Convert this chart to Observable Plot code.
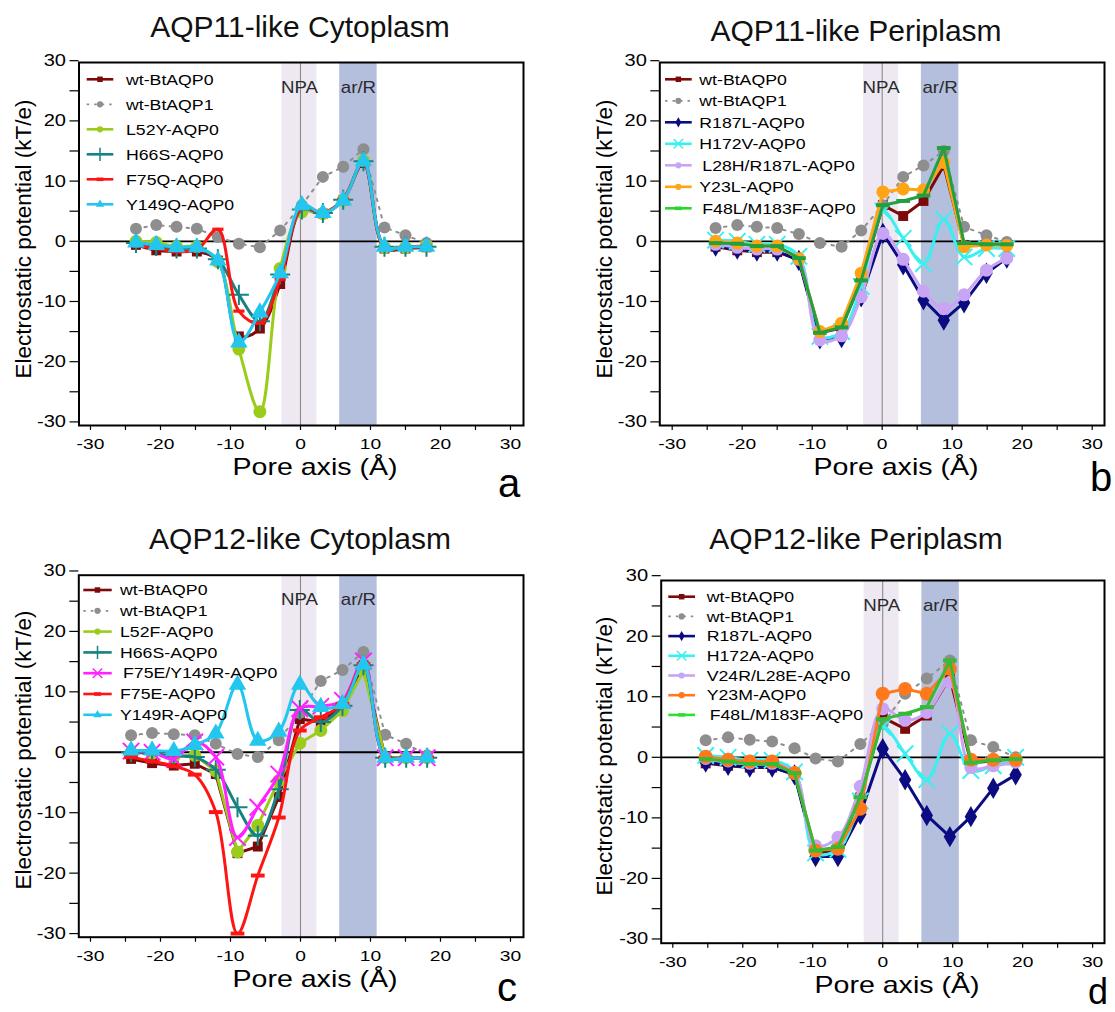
<!DOCTYPE html>
<html><head><meta charset="utf-8">
<script src="https://cdn.jsdelivr.net/npm/d3@7"></script>
<script src="https://cdn.jsdelivr.net/npm/@observablehq/plot@0.6"></script>
<style>
html,body{margin:0;padding:0;background:#fff;}
#root{position:relative;width:1115px;height:1012px;overflow:hidden;font-family:"Liberation Sans",Arial,sans-serif;background:#fff;}
#overlay{position:absolute;left:0;top:0;pointer-events:none;}
</style></head>
<body><div id="root"></div>
<script>
// ================= DATA =================
const panelTitles = ["AQP11-like Cytoplasm", "AQP11-like Periplasm", "AQP12-like Cytoplasm", "AQP12-like Periplasm"];
const panelLetters = ["a", "b", "c", "d"];
const xTickValues = [-30, -25, -20, -15, -10, -5, 0, 5, 10, 15, 20, 25, 30];
const yTickValues = [-30, -25, -20, -15, -10, -5, 0, 5, 10, 15, 20, 25, 30];
const bandNames = ["NPA", "ar/R"];
const bandFrom = [-2.65, 5.6];
const bandTo = [2.35, 10.95];
const xAxisTitle = "Pore axis (Å)";
const yAxisTitle = "Electrostatic potential (kT/e)";

// Panel a — AQP11-like Cytoplasm
const xA = [-23.5, -20.6, -17.7, -14.8, -11.8, -8.8, -5.8, -2.9, 0.2, 3.2, 6.1, 9.0, 12.0, 15.0, 18.0];
const namesA = ["wt-BtAQP0", "wt-BtAQP1", "L52Y-AQP0", "H66S-AQP0", "F75Q-AQP0", "Y149Q-AQP0"];
const a_wtAQP0 = [-0.6, -1.5, -1.7, -1.7, -3.2, -15.8, -14.5, -7.1, 5.2, 4.6, 6.8, 13.0, -1.2, -1.2, -1.0];
const a_wtAQP1 = [2.1, 2.7, 2.4, 2.1, 0.7, -0.4, -1.0, 1.8, 6.0, 10.7, 12.4, 15.3, 2.3, 1.0, -0.3];
const a_L52Y = [0.0, -0.2, -0.9, -0.9, -3.4, -17.9, -28.3, -4.5, 4.9, 4.6, 6.8, 13.4, -1.0, -1.0, -0.8];
const a_H66S = [-0.3, -0.8, -1.2, -1.2, -3.0, -8.9, -13.3, -5.5, 5.3, 4.7, 6.9, 13.3, -0.9, -0.9, -0.9];
const a_F75Q = [-0.6, -1.2, -1.7, -1.4, 2.0, -11.6, -13.6, -6.3, 5.5, 4.8, 7.0, 13.1, -0.9, -0.9, -0.8];
const a_Y149Q = [-0.2, -0.6, -1.0, -1.0, -3.2, -16.8, -11.8, -5.3, 6.0, 4.7, 6.8, 13.3, -0.9, -0.9, -0.9];

// Panel b — AQP11-like Periplasm
const xB = [-23.8, -20.7, -17.9, -15.0, -11.9, -8.9, -5.8, -3.0, 0.1, 3.0, 5.9, 8.8, 11.7, 14.9, 17.8];
const namesB = ["wt-BtAQP0", "wt-BtAQP1", "R187L-AQP0", "H172V-AQP0", "L28H/R187L-AQP0", "Y23L-AQP0", "F48L/M183F-AQP0"];
const b_wtAQP0 = [-0.9, -1.5, -1.8, -1.8, -3.0, -15.2, -14.4, -6.5, 6.0, 4.2, 6.7, 12.6, -0.6, -0.5, -0.5];
const b_wtAQP1 = [2.2, 2.7, 2.4, 2.2, 1.2, -0.3, -0.9, 1.8, 6.0, 10.7, 12.6, 15.0, 2.4, 1.0, -0.1];
const b_R187L = [-0.8, -1.3, -1.6, -1.6, -3.2, -16.2, -16.0, -9.2, 1.3, -3.9, -9.7, -13.1, -10.2, -5.3, -2.8];
const b_H172V = [0.2, 0.0, -0.5, -0.5, -2.5, -15.8, -15.0, -7.5, 5.0, 0.5, -3.7, 3.6, -2.6, -1.2, -1.2];
const b_L28H_R187L = [-0.5, -1.0, -1.3, -1.3, -3.0, -16.4, -15.7, -9.2, 1.3, -3.0, -8.3, -11.2, -8.9, -4.8, -2.8];
const b_Y23L = [0.0, -0.3, -0.8, -0.8, -2.9, -15.0, -13.6, -5.3, 8.2, 8.7, 8.5, 13.1, -0.9, -0.6, -0.7];
const b_F48L_M183F = [-0.3, -0.4, -0.8, -0.8, -2.8, -15.2, -14.3, -6.5, 6.0, 6.7, 7.6, 15.5, -0.3, -0.5, -0.5];

// Panel c — AQP12-like Cytoplasm
const xC = [-24.2, -21.2, -18.1, -15.1, -12.1, -9.0, -6.1, -3.1, -0.1, 2.9, 6.0, 9.0, 12.1, 15.1, 18.1];
const namesC = ["wt-BtAQP0", "wt-BtAQP1", "L52F-AQP0", "H66S-AQP0", "F75E/Y149R-AQP0", "F75E-AQP0", "Y149R-AQP0"];
const c_wtAQP0 = [-1.1, -1.8, -2.2, -1.9, -3.6, -16.7, -15.6, -7.4, 5.5, 5.0, 7.5, 14.4, -0.9, -0.9, -0.9];
const c_wtAQP1 = [2.8, 3.2, 3.0, 2.8, 1.4, -0.3, -0.8, 2.0, 6.5, 11.8, 13.6, 16.6, 2.9, 1.4, -0.5];
const c_L52F = [0.0, -0.2, -0.8, -0.5, -3.1, -16.5, -12.1, -4.7, 1.5, 3.6, 6.9, 13.5, -0.9, -0.9, -0.9];
const c_H66S = [0.0, -0.2, -0.6, -0.8, -2.9, -9.1, -13.8, -6.1, 7.0, 5.0, 7.7, 14.4, -0.9, -0.9, -0.9];
const c_F75E_Y149R = [0.2, 0.0, -1.1, 1.7, -0.8, -14.1, -9.1, -3.6, 7.2, 7.6, 8.6, 15.1, -0.9, -0.9, -0.9];
const c_F75E = [-0.8, -1.5, -2.3, -3.7, -9.9, -30.0, -20.4, -10.8, 3.6, 5.8, 8.0, 14.6, -0.9, -0.9, -0.9];
const c_Y149R = [0.3, 0.3, 0.2, 1.2, 3.1, 11.2, 1.9, 3.4, 11.2, 7.5, 8.0, 14.5, -0.9, -0.9, -0.9];

// Panel d — AQP12-like Periplasm
const xD = [-25.3, -22.1, -19.0, -15.8, -12.6, -9.6, -6.4, -3.2, 0.0, 3.2, 6.3, 9.6, 12.6, 15.8, 19.0];
const namesD = ["wt-BtAQP0", "wt-BtAQP1", "R187L-AQP0", "H172A-AQP0", "V24R/L28E-AQP0", "Y23M-AQP0", "F48L/M183F-AQP0"];
const d_wtAQP0 = [-1.0, -1.4, -1.7, -1.7, -2.7, -15.8, -15.4, -6.6, 6.6, 4.7, 6.9, 13.2, -0.9, -0.6, -0.6];
const d_wtAQP1 = [2.8, 3.3, 2.9, 2.6, 1.5, -0.2, -0.7, 2.2, 5.5, 10.5, 13.0, 16.0, 2.8, 1.7, 0.0];
const d_R187L = [-0.8, -1.3, -1.6, -1.6, -2.9, -16.4, -16.4, -9.4, 1.4, -3.7, -9.6, -13.1, -9.8, -5.1, -2.9];
const d_H172A = [0.3, 0.0, -0.5, -0.5, -2.4, -15.8, -15.2, -7.2, 5.0, 0.6, -3.7, 3.9, -2.2, -1.4, 0.0];
const d_V24R_L28E = [-0.2, -0.6, -1.0, -1.0, -2.6, -14.6, -13.2, -4.8, 8.0, 6.1, 7.4, 12.4, -1.7, -1.4, -0.8];
const d_Y23M = [0.1, -0.4, -0.7, -0.7, -2.6, -15.4, -15.1, -8.5, 10.5, 11.3, 10.5, 14.6, -0.4, -0.4, -0.4];
const d_F48L_M183F = [-0.3, -0.7, -1.1, -1.1, -2.6, -15.4, -14.8, -6.6, 6.3, 7.2, 8.3, 16.0, -0.9, -0.5, -0.3];

const valuesA = [a_wtAQP0, a_wtAQP1, a_L52Y, a_H66S, a_F75Q, a_Y149Q];
const valuesB = [b_wtAQP0, b_wtAQP1, b_R187L, b_H172V, b_L28H_R187L, b_Y23L, b_F48L_M183F];
const valuesC = [c_wtAQP0, c_wtAQP1, c_L52F, c_H66S, c_F75E_Y149R, c_F75E, c_Y149R];
const valuesD = [d_wtAQP0, d_wtAQP1, d_R187L, d_H172A, d_V24R_L28E, d_Y23M, d_F48L_M183F];

// ================= STYLES =================
const dashSymbol = {
  draw(ctx, size) {
    const r = Math.sqrt(size / Math.PI);
    ctx.moveTo(-1.25 * r, -0.36 * r); ctx.lineTo(1.25 * r, -0.36 * r);
    ctx.lineTo(1.25 * r, 0.36 * r); ctx.lineTo(-1.25 * r, 0.36 * r); ctx.closePath();
  }
};
const styleMap = {
  "wt-BtAQP0": {color: "#7d0a0a", symbol: "square", r: 5.6},
  "wt-BtAQP1": {color: "#8e8e8e", symbol: "circle", r: 6, dash: "2.5,6", width: 2},
  "L52Y-AQP0": {color: "#9bcc1c", symbol: "circle", r: 6.5},
  "L52F-AQP0": {color: "#9bcc1c", symbol: "circle", r: 6.5},
  "H66S-AQP0": {color: "#168383", symbol: "plus", r: 6.5},
  "F75Q-AQP0": {color: "#ff1414", symbol: "dash", r: 4.5},
  "F75E-AQP0": {color: "#ff1414", symbol: "dash", r: 5.5},
  "Y149Q-AQP0": {color: "#22c6ee", symbol: "triangle", r: 6.5},
  "Y149R-AQP0": {color: "#22c6ee", symbol: "triangle", r: 6.5},
  "F75E/Y149R-AQP0": {color: "#ff22ff", symbol: "times", r: 7.5},
  "R187L-AQP0": {color: "#0c0c82", symbol: "diamond", r: 6.5},
  "H172V-AQP0": {color: "#38f0f0", symbol: "times", r: 7.5},
  "H172A-AQP0": {color: "#38f0f0", symbol: "times", r: 7.5},
  "L28H/R187L-AQP0": {color: "#c9a4f4", symbol: "circle", r: 6.5},
  "V24R/L28E-AQP0": {color: "#c9a4f4", symbol: "circle", r: 6.5},
  "Y23L-AQP0": {color: "#ffa412", symbol: "circle", r: 6.5},
  "Y23M-AQP0": {color: "#ff781c", symbol: "circle", r: 7},
  "F48L/M183F-AQP0": {color: "#22a040", symbol: "dash", r: 5.5}
};
const greenD = "#36bb36";

const panels = [
  {left: 0, top: 0, width: 557, height: 500, mL: 78.5, mR: 34, mT: 62, mB: 75,
   xDom: [-31.64, 31.86], yDom: [-30.6, 29.7], xs: xA, names: namesA, values: valuesA,
   curves: ["catmull-rom", "linear", "catmull-rom", "catmull-rom", "catmull-rom", "catmull-rom"],
   title: [300, 37], letter: [498, 497], letterSize: 40, ylab: [23, 239], xlab: [315, 475],
   leg: {x1: 86.7, x2: 113.3, tx: 126, y0: 79.3, dy: 25}},
  {left: 557, top: 0, width: 557, height: 500, mL: 102.3, mR: 10, mT: 62, mB: 75,
   xDom: [-31.77, 31.76], yDom: [-30.6, 29.7], xs: xB, names: namesB, values: valuesB,
   curves: ["linear", "linear", "linear", "catmull-rom", "catmull-rom", "linear", "linear"],
   title: [856, 41], letter: [1090, 491], letterSize: 40, ylab: [604, 239], xlab: [896, 475],
   leg: {x1: 665, x2: 691.7, tx: 699.3, y0: 79.3, dy: 21.5}},
  {left: 0, top: 500, width: 557, height: 500, mL: 78.3, mR: 34, mT: 74.7, mB: 63.3,
   xDom: [-31.67, 31.86], yDom: [-30.6, 29.3], xs: xC, names: namesC, values: valuesC,
   curves: ["linear", "linear", "linear", "catmull-rom", "catmull-rom", "catmull-rom", "catmull-rom"],
   title: [300, 549], letter: [497, 1001], letterSize: 40, ylab: [23, 750], xlab: [315, 987],
   leg: {x1: 83.3, x2: 111.7, tx: 120, y0: 590, dy: 20.8}},
  {left: 557, top: 500, width: 557, height: 500, mL: 103.7, mR: 10, mT: 80, mB: 57.3,
   xDom: [-31.66, 31.7], yDom: [-30.7, 29.2], xs: xD, names: namesD, values: valuesD,
   curves: ["linear", "linear", "linear", "catmull-rom", "catmull-rom", "linear", "linear"],
   title: [856, 549], letter: [1088, 1004], letterSize: 36, ylab: [604, 756], xlab: [897, 993],
   leg: {x1: 668.3, x2: 695, tx: 706.7, y0: 596.7, dy: 19.7}, green: greenD}
];
const indentNames = new Set(["L28H/R187L-AQP0", "F48L/M183F-AQP0", "F75E/Y149R-AQP0"]);

const root = document.getElementById("root");
const bands = bandNames.map((n, i) => ({name: n, x1: bandFrom[i], x2: bandTo[i], xm: (bandFrom[i] + bandTo[i]) / 2}));
const symOf = s => s === "dash" ? dashSymbol : s;
const strokeSym = s => s === "plus" || s === "times";

function stretchText(svg, factor, selector) {
  svg.querySelectorAll(selector).forEach(t => {
    const L = t.getComputedTextLength();
    if (L > 0) { t.setAttribute("textLength", (L * factor).toFixed(2)); t.setAttribute("lengthAdjust", "spacingAndGlyphs"); }
  });
}

panels.forEach((p, pi) => {
  const marks = [];
  marks.push(Plot.rect(bands, {x1: "x1", x2: "x2", fill: (d, i) => i === 0 ? "#ede8f2" : "#b4bedd"}));
  marks.push(Plot.ruleX([0], {stroke: "#8a8a8a", strokeWidth: 1.1}));
  marks.push(Plot.ruleY([0], {stroke: "#000", strokeWidth: 1.8}));
  marks.push(Plot.text(bands, {x: "xm", text: "name", frameAnchor: "top", dy: 18, fontSize: 17, fill: "#2a2a2a"}));
  p.names.forEach((name, si) => {
    const st = styleMap[name];
    let color = st.color;
    if (name === "F48L/M183F-AQP0" && p.green) color = p.green;
    const rows = p.xs.map((x, i) => ({x, v: p.values[si][i]}));
    marks.push(Plot.line(rows, {x: "x", y: "v", stroke: color, strokeWidth: st.width || 3,
      strokeDasharray: st.dash || null, curve: p.curves[si]}));
    const dotOpts = {x: "x", y: "v", symbol: symOf(st.symbol), r: st.r};
    if (strokeSym(st.symbol)) { dotOpts.stroke = color; dotOpts.strokeWidth = 2; dotOpts.fill = "none"; }
    else { dotOpts.fill = color; dotOpts.stroke = "none"; }
    marks.push(Plot.dot(rows, dotOpts));
  });
  marks.push(Plot.frame({stroke: "#000", strokeWidth: 2}));
  marks.push(Plot.axisY({ticks: yTickValues, tickSize: 9, tickPadding: 4, fontSize: 17, strokeWidth: 1.2,
    tickFormat: d => d % 10 === 0 ? String(d) : "", label: null}));
  marks.push(Plot.axisX({ticks: xTickValues, tickSize: 5, tickPadding: 8, fontSize: 15, strokeWidth: 1.2,
    tickFormat: d => d % 10 === 0 ? String(d) : "", label: null}));
  const svg = Plot.plot({
    width: p.width, height: p.height,
    marginLeft: p.mL, marginRight: p.mR, marginTop: p.mT, marginBottom: p.mB,
    x: {domain: p.xDom}, y: {domain: p.yDom},
    style: {background: "transparent", overflow: "visible", fontFamily: "'Liberation Sans', Arial, sans-serif", color: "#000"},
    marks
  });
  svg.style.position = "absolute";
  svg.style.left = p.left + "px";
  svg.style.top = p.top + "px";
  svg.style.maxWidth = "none";
  root.appendChild(svg);
  stretchText(svg, 1.18, 'g[aria-label="y-axis tick label"] text');
  stretchText(svg, 1.28, 'g[aria-label="x-axis tick label"] text');
  stretchText(svg, 1.1, 'g[aria-label="text"] text');
});

// ================= OVERLAY: titles, axis titles, letters, legends =================
const ov = d3.select(root).append("svg").attr("id", "overlay").attr("width", 1115).attr("height", 1012)
  .style("font-family", "'Liberation Sans', Arial, sans-serif");
const d3sym = {square: d3.symbolSquare, circle: d3.symbolCircle, diamond: d3.symbolDiamond,
  triangle: d3.symbolTriangle, plus: d3.symbolPlus, times: d3.symbolTimes};

panels.forEach((p, pi) => {
  ov.append("text").attr("x", p.title[0]).attr("y", p.title[1]).attr("text-anchor", "middle")
    .attr("font-size", 30).attr("fill", "#111").text(panelTitles[pi]);
  ov.append("text").attr("x", p.xlab[0]).attr("y", p.xlab[1]).attr("text-anchor", "middle")
    .attr("font-size", 24).attr("textLength", 165).attr("lengthAdjust", "spacingAndGlyphs").attr("fill", "#000").text(xAxisTitle);
  ov.append("text").attr("transform", `translate(${p.ylab[0]},${p.ylab[1]}) rotate(-90)`).attr("text-anchor", "middle")
    .attr("dy", "0.35em").attr("font-size", 22.5).attr("fill", "#000").text(yAxisTitle);
  ov.append("text").attr("x", p.letter[0]).attr("y", p.letter[1]).attr("font-size", p.letterSize).attr("fill", "#000").text(panelLetters[pi]);

  const lg = p.leg;
  p.names.forEach((name, i) => {
    const st = styleMap[name];
    let color = st.color;
    if (name === "F48L/M183F-AQP0") color = p.green ? "#2ee02e" : "#2ed42e";
    const y = lg.y0 + i * lg.dy;
    const g = ov.append("g");
    g.append("line").attr("x1", lg.x1).attr("x2", lg.x2).attr("y1", y).attr("y2", y)
      .attr("stroke", color).attr("stroke-width", st.dash ? 1.8 : 2.6).attr("stroke-dasharray", st.dash ? "2.5,5" : null);
    const cx = (lg.x1 + lg.x2) / 2;
    if (st.symbol === "dash") {
      g.append("rect").attr("x", cx - 3.5).attr("y", y - 1.8).attr("width", 7).attr("height", 3.6).attr("fill", color);
    } else {
      const path = d3.symbol().type(d3sym[st.symbol]).size(strokeSym(st.symbol) ? 60 : 30)();
      const m = g.append("path").attr("d", path).attr("transform", `translate(${cx},${y})`);
      if (strokeSym(st.symbol)) m.attr("fill", "none").attr("stroke", color).attr("stroke-width", 1.5);
      else m.attr("fill", color);
    }
    const t = g.append("text").attr("x", lg.tx + (indentNames.has(name) ? 3 : 0)).attr("y", y).attr("dy", "0.36em")
      .attr("font-size", 14.5).attr("fill", "#000").text(name);
    const L = t.node().getComputedTextLength();
    t.attr("textLength", (L * 1.22).toFixed(2)).attr("lengthAdjust", "spacingAndGlyphs");
  });
});
</script>
</body></html>
